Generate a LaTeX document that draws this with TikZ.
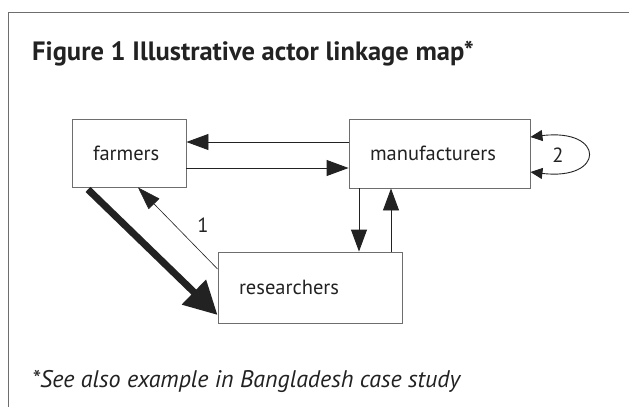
\documentclass[tikz,border=0pt]{standalone}
\usepackage{fontspec}
\setmainfont{PT Sans}
\usetikzlibrary{arrows.meta,calc}
\definecolor{ink}{HTML}{222222}
\definecolor{framec}{HTML}{6E6E6E}
\begin{document}
\begin{tikzpicture}[x=1pt,y=-1pt,
  box/.style={draw=framec, line width=0.9pt, rectangle, inner xsep=21pt, inner ysep=0pt,
    align=left, font=\fontsize{20.5}{22}\selectfont, text=ink},
  conn/.style={draw=ink, line width=0.9pt, -{Triangle[length=22pt,width=16pt]}},
  thinconn/.style={draw=ink, line width=0.6pt, -{Triangle[length=23pt,width=15pt]}},
  thickconn/.style={draw=ink, fill=ink, line width=7pt, -{Triangle[length=33pt,width=33pt]}},
  loopconn/.style={draw=ink, line width=0.9pt, {Triangle[length=12pt,width=11pt]}-{Triangle[length=12pt,width=11pt]}},
  lbl/.style={font=\fontsize{20.5}{22}\selectfont, text=ink, inner sep=0pt}]
\useasboundingbox (0,0) rectangle (629,407);
\fill[white] (0,0) rectangle (629,407);
\draw[framec, line width=1pt] (629,12) -- (8,12) -- (8,407);
\node[anchor=base west, inner sep=0pt, font=\bfseries\fontsize{26.5}{28}\selectfont, text=ink] (title) at (32,60) {Figure 1 Illustrative actor linkage map*};
\node[box, minimum width=114pt, minimum height=68pt, text width=72pt] (farm) at (129,153) {farmers};
\node[box, minimum width=181pt, minimum height=69pt, text width=139pt] (man) at (439.5,153.5) {manufacturers};
\node[box, minimum width=184pt, minimum height=71pt, text width=142pt] (res) at (310,287.5) {researchers};
\draw[conn] ($(man.west)+(0,-11.5)$) -- ($(farm.east)+(0,-11)$);
\draw[conn] ($(farm.east)+(0,15)$) -- ($(man.west)+(0,14.5)$);
\draw[conn] ($(man.south)+(-80.5,0)$) -- ($(res.north)+(49,0)$);
\draw[conn] ($(res.north)+(81,0)$) -- ($(man.south)+(-48.5,0)$);
\draw[thinconn] ($(res.west)+(0,-18.5)$) -- ($(farm.south)+(9,0)$);
\draw[thickconn] ($(farm.south)+(-41,2)$) -- ($(res.west)+(0,27.5)$);
\draw[loopconn] ($(man.east)+(0,-16.5)$) .. controls +(75,-9) and +(75,9) .. ($(man.east)+(0,18.5)$);
\node[lbl] (one) at (203,225) {1};
\node[lbl] (two) at (558,155) {2};
\node[anchor=base west, inner sep=0pt, font=\itshape\fontsize{24}{26}\selectfont, text=ink] (note) at (32,387) {*See also example in Bangladesh case study};
\end{tikzpicture}
\end{document}
